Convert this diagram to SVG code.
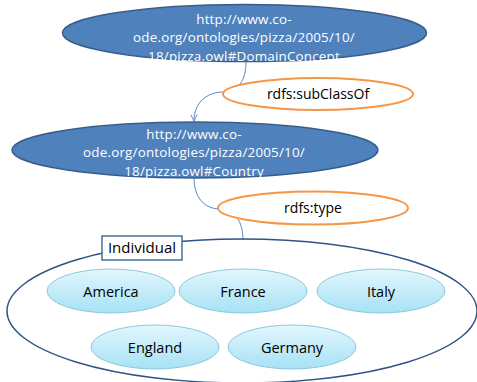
<svg xmlns="http://www.w3.org/2000/svg" width="477" height="382" viewBox="0 0 477 382">
<defs>
<linearGradient id="cy" x1="0" y1="0" x2="0" y2="1">
<stop offset="0" stop-color="#E3F6FC"/>
<stop offset="1" stop-color="#A6E2F5"/>
</linearGradient>
<marker id="ah" viewBox="0 0 10 10" refX="9" refY="5" markerWidth="8" markerHeight="8" orient="auto" markerUnits="userSpaceOnUse">
<path d="M1,1 L9,5 L1,9" fill="none" stroke="#5B87C0" stroke-width="1.2"/>
</marker>
<style>
.cls{fill:#4F81BD;stroke:#385D8A;stroke-width:1.5}
.ct{font-family:"Open Sans","Noto Sans","DejaVu Sans",sans-serif;font-size:13.4px;letter-spacing:0.2px;fill:#FFFFFF;text-anchor:middle}
.rel{fill:#FFFFFF;stroke:#F79646;stroke-width:2}
.t{font-family:"Open Sans","Noto Sans","DejaVu Sans",sans-serif;font-size:14px;fill:#000000;text-anchor:middle}
.ind{fill:url(#cy);stroke:#8CC8DD;stroke-width:1}
.it{font-family:"Open Sans","Noto Sans","DejaVu Sans",sans-serif;font-size:14.5px;fill:#000000;text-anchor:middle}
.conn{fill:none;stroke:#5B87C0;stroke-width:1}
</style>
</defs>
<rect width="477" height="382" fill="#FFFFFF"/>
<g id="domainconcept">
<ellipse class="cls" cx="244.5" cy="33" rx="182" ry="28.5"/>
<text class="ct" x="244" y="23.5">http://www.co-</text>
<text class="ct" x="244" y="42">ode.org/ontologies/pizza/2005/10/</text>
<text class="ct" x="244" y="60.5">18/pizza.owl#DomainConcept</text>
</g>
<g id="country">
<ellipse class="cls" cx="195" cy="150" rx="183" ry="28"/>
<text class="ct" x="194" y="138.5">http://www.co-</text>
<text class="ct" x="194" y="157">ode.org/ontologies/pizza/2005/10/</text>
<text class="ct" x="194" y="175.5">18/pizza.owl#Country</text>
</g>
<g id="connectors">
<path class="conn" d="M246,62 C246,80 238,92 224,92 C205,92 194,104 194,121" marker-end="url(#ah)"/>
<path class="conn" d="M194,178 C194,198 205,209 220,209 C235,209 243,222 243,240"/>
</g>
<g id="subclassof">
<ellipse class="rel" cx="318" cy="94" rx="95" ry="16"/>
<text class="t" x="318" y="99">rdfs:subClassOf</text>
</g>
<g id="type">
<ellipse class="rel" cx="313" cy="208" rx="95" ry="16.5"/>
<text class="t" x="313" y="213">rdfs:type</text>
</g>
<g id="individual">
<ellipse cx="242" cy="311" rx="235" ry="72" fill="none" stroke="#2F5384" stroke-width="1.5"/>
<rect x="102" y="236" width="80" height="24" fill="#FFFFFF" stroke="#41719C" stroke-width="1.5"/>
<text class="t" x="142" y="253" style="font-size:15px">Individual</text>
</g>
<g id="america">
<ellipse class="ind" cx="111" cy="291" rx="64" ry="22"/>
<text class="it" x="111" y="297">America</text>
</g>
<g id="france">
<ellipse class="ind" cx="243" cy="291" rx="64" ry="22"/>
<text class="it" x="243" y="297">France</text>
</g>
<g id="italy">
<ellipse class="ind" cx="381" cy="291" rx="64" ry="22"/>
<text class="it" x="381" y="297">Italy</text>
</g>
<g id="england">
<ellipse class="ind" cx="155" cy="347" rx="64" ry="22"/>
<text class="it" x="155" y="353">England</text>
</g>
<g id="germany">
<ellipse class="ind" cx="292" cy="347" rx="64" ry="22"/>
<text class="it" x="292" y="353">Germany</text>
</g>
</svg>
